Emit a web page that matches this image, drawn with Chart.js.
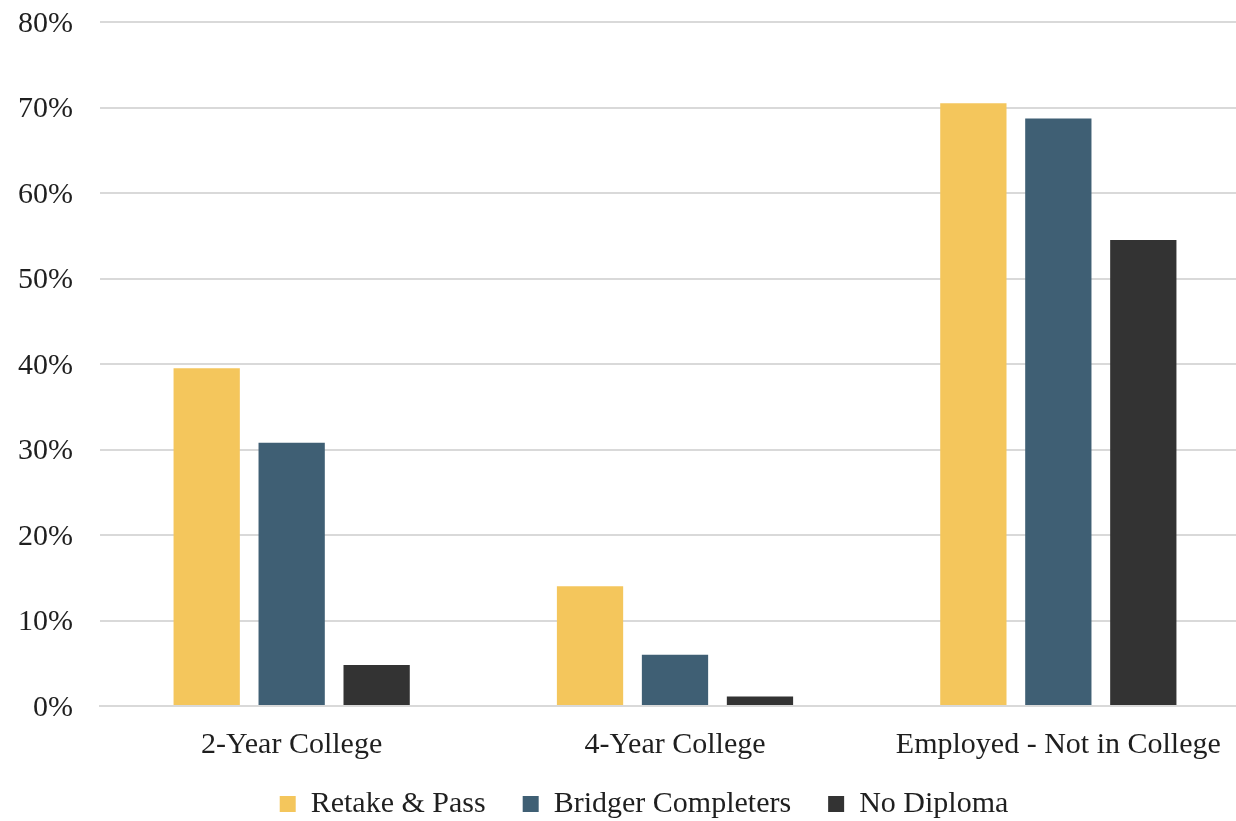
<!DOCTYPE html>
<html>
<head>
<meta charset="utf-8">
<script src="https://cdn.jsdelivr.net/npm/chart.js"></script>
<style>
  html, body { margin: 0; padding: 0; overflow: hidden; background: #fff; }
  #wrap { position: absolute; left: 0; top: 0; width: 1250px; height: 821px; }
</style>
</head>
<body>
<div id="wrap"><canvas id="outcomeChart"></canvas></div>

<script>
  // categories and series
  const categories = ['2-Year College', '4-Year College', 'Employed - Not in College'];
  const retakePass = [39.5, 14.0, 70.5];
  const bridgerCompleters = [30.8, 6.0, 68.7];
  const noDiploma = [4.8, 1.1, 54.5];
  const seriesNames = ['Retake & Pass', 'Bridger Completers', 'No Diploma'];
  const yTicks = [0, 10, 20, 30, 40, 50, 60, 70, 80];

  const font = {family: "'Liberation Serif', 'DejaVu Serif', serif", size: 30};
  const textColor = '#1f1f1f';

  // the legend sits a little right of centre and tucked up under the axis labels
  const legendNudge = {
    id: 'legendNudge',
    afterLayout(chart) {
      const lg = chart.legend;
      lg.left += 38;
      lg.top -= 14;
    }
  };

  new Chart('outcomeChart', {
    type: 'bar',
    data: {
      labels: categories,
      datasets: [{
        label: seriesNames[0],
        data: retakePass,
        backgroundColor: '#F4C65C'
      }, {
        label: seriesNames[1],
        data: bridgerCompleters,
        backgroundColor: '#3F5F74'
      }, {
        label: seriesNames[2],
        data: noDiploma,
        backgroundColor: '#333333'
      }]
    },
    options: {
      responsive: true,
      maintainAspectRatio: false,
      animation: false,
      categoryPercentage: 0.665,
      barPercentage: 0.78,
      layout: {
        padding: {left: 0, right: 0, top: 22, bottom: 0}
      },
      scales: {
        x: {
          grid: {display: false, drawTicks: false},
          border: {color: '#D9D9D9', width: 2},
          ticks: {font: font, color: textColor, padding: 21, maxRotation: 0},
          afterFit(scale) { scale.height = 60; }
        },
        y: {
          min: 0,
          max: 80,
          afterBuildTicks(scale) {
            scale.ticks = yTicks.map((v) => ({value: v}));
          },
          ticks: {
            font: font,
            color: textColor,
            padding: 27,
            labelOffset: 2,
            callback: (v) => v + '%'
          },
          grid: {color: '#D9D9D9', lineWidth: 2, drawTicks: false},
          border: {display: false},
          afterFit(scale) {
            scale.width = 100;
            scale.paddingTop = 0;
            scale.paddingBottom = 0;
          }
        }
      },
      plugins: {
        legend: {
          position: 'bottom',
          maxHeight: 55,
          labels: {
            font: font,
            color: textColor,
            boxWidth: 16,
            boxHeight: 16,
            padding: 37
          }
        },
        tooltip: {enabled: false}
      }
    },
    plugins: [legendNudge]
  });
</script>
</body>
</html>
